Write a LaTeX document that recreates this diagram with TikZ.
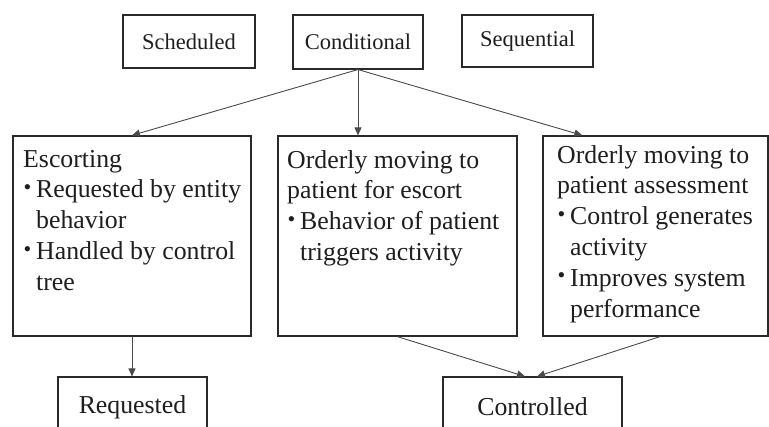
\documentclass[tikz,border=0pt]{standalone}
\usepackage{fontspec}
\setmainfont{Liberation Serif}
\usetikzlibrary{arrows.meta}

\definecolor{edge}{HTML}{2A2A2A}
\definecolor{wire}{HTML}{4A4A4A}
\definecolor{ink}{HTML}{1E1E1E}

% small raised bullet and the matching hanging indent
\newcommand\itembul{\makebox[13pt][l]{\hspace*{0.5pt}\raisebox{3.5pt}{\fontsize{22}{22}\selectfont •}}}
\newcommand\itemind{\hspace*{13pt}}

\begin{document}
\begin{tikzpicture}[x=1pt,y=-1pt,
  typebox/.style={draw=edge, line width=1.1pt, inner sep=0pt, text=ink,
    font=\fontsize{22.5}{27}\selectfont},
  actbox/.style={draw=edge, line width=1.3pt, inner sep=0pt},
  resultbox/.style={draw=edge, line width=1.1pt, inner sep=0pt, text=ink,
    font=\fontsize{25.8}{30.8}\selectfont},
  body/.style={anchor=north west, inner sep=0pt, align=left, text=ink,
    font=\fontsize{25.8}{30.8}\selectfont},
  conn/.style={draw=wire, line width=0.9pt, -{Triangle[length=8pt,width=7pt]}}]

\useasboundingbox (0,0) rectangle (769,427);
\clip (0,0) rectangle (769,427);
\fill[white] (0,0) rectangle (769,427);

% activity types
\node[typebox, minimum width=132pt, minimum height=53pt] (sched) at (189,41.5) {Scheduled};
\node[typebox, minimum width=130pt, minimum height=54pt] (cond)  at (358,42) {Conditional};
\node[typebox, minimum width=131pt, minimum height=52pt] (seq)   at (527.5,41) {Sequential};

% activities
\node[actbox, minimum width=238pt, minimum height=200pt] (esc) at (132,236) {};
\node[actbox, minimum width=239pt, minimum height=200pt] (mid) at (397.5,236) {};
\node[actbox, minimum width=225pt, minimum height=200pt] (ass) at (655.5,236) {};

\node[body] (esctext) at (23,145.4) {\strut Escorting\\
  \itembul Requested by entity\\ \itemind behavior\\
  \itembul Handled by control\\ \itemind tree};
\node[body] (midtext) at (287,146.4) {\strut Orderly moving to\\
  patient for escort\\
  \itembul Behavior of patient\\ \itemind triggers activity};
\node[body] (asstext) at (557,141.4) {\strut Orderly moving to\\
  patient assessment\\
  \itembul Control generates\\ \itemind activity\\
  \itembul Improves system\\ \itemind performance};

% outcomes
\node[resultbox, minimum width=149pt, minimum height=60pt] (req) at (132.5,407) {Requested};
\node[resultbox, minimum width=179pt, minimum height=60pt] (ctl) at (532.5,407) {Controlled};

% connectors
\draw[conn] (cond.south) -- (esc.north);
\draw[conn] (cond.south) -- (cond.south |- mid.north);
\draw[conn] (cond.south) -- ([xshift=40pt]ass.north west);
\draw[conn] (esc.south) -- (esc.south |- req.north);
\draw[conn] (mid.south) -- ([xshift=-7.5pt]ctl.north);
\draw[conn] ([xshift=4.5pt]ass.south) -- ([xshift=4.5pt]ctl.north);
\end{tikzpicture}
\end{document}
